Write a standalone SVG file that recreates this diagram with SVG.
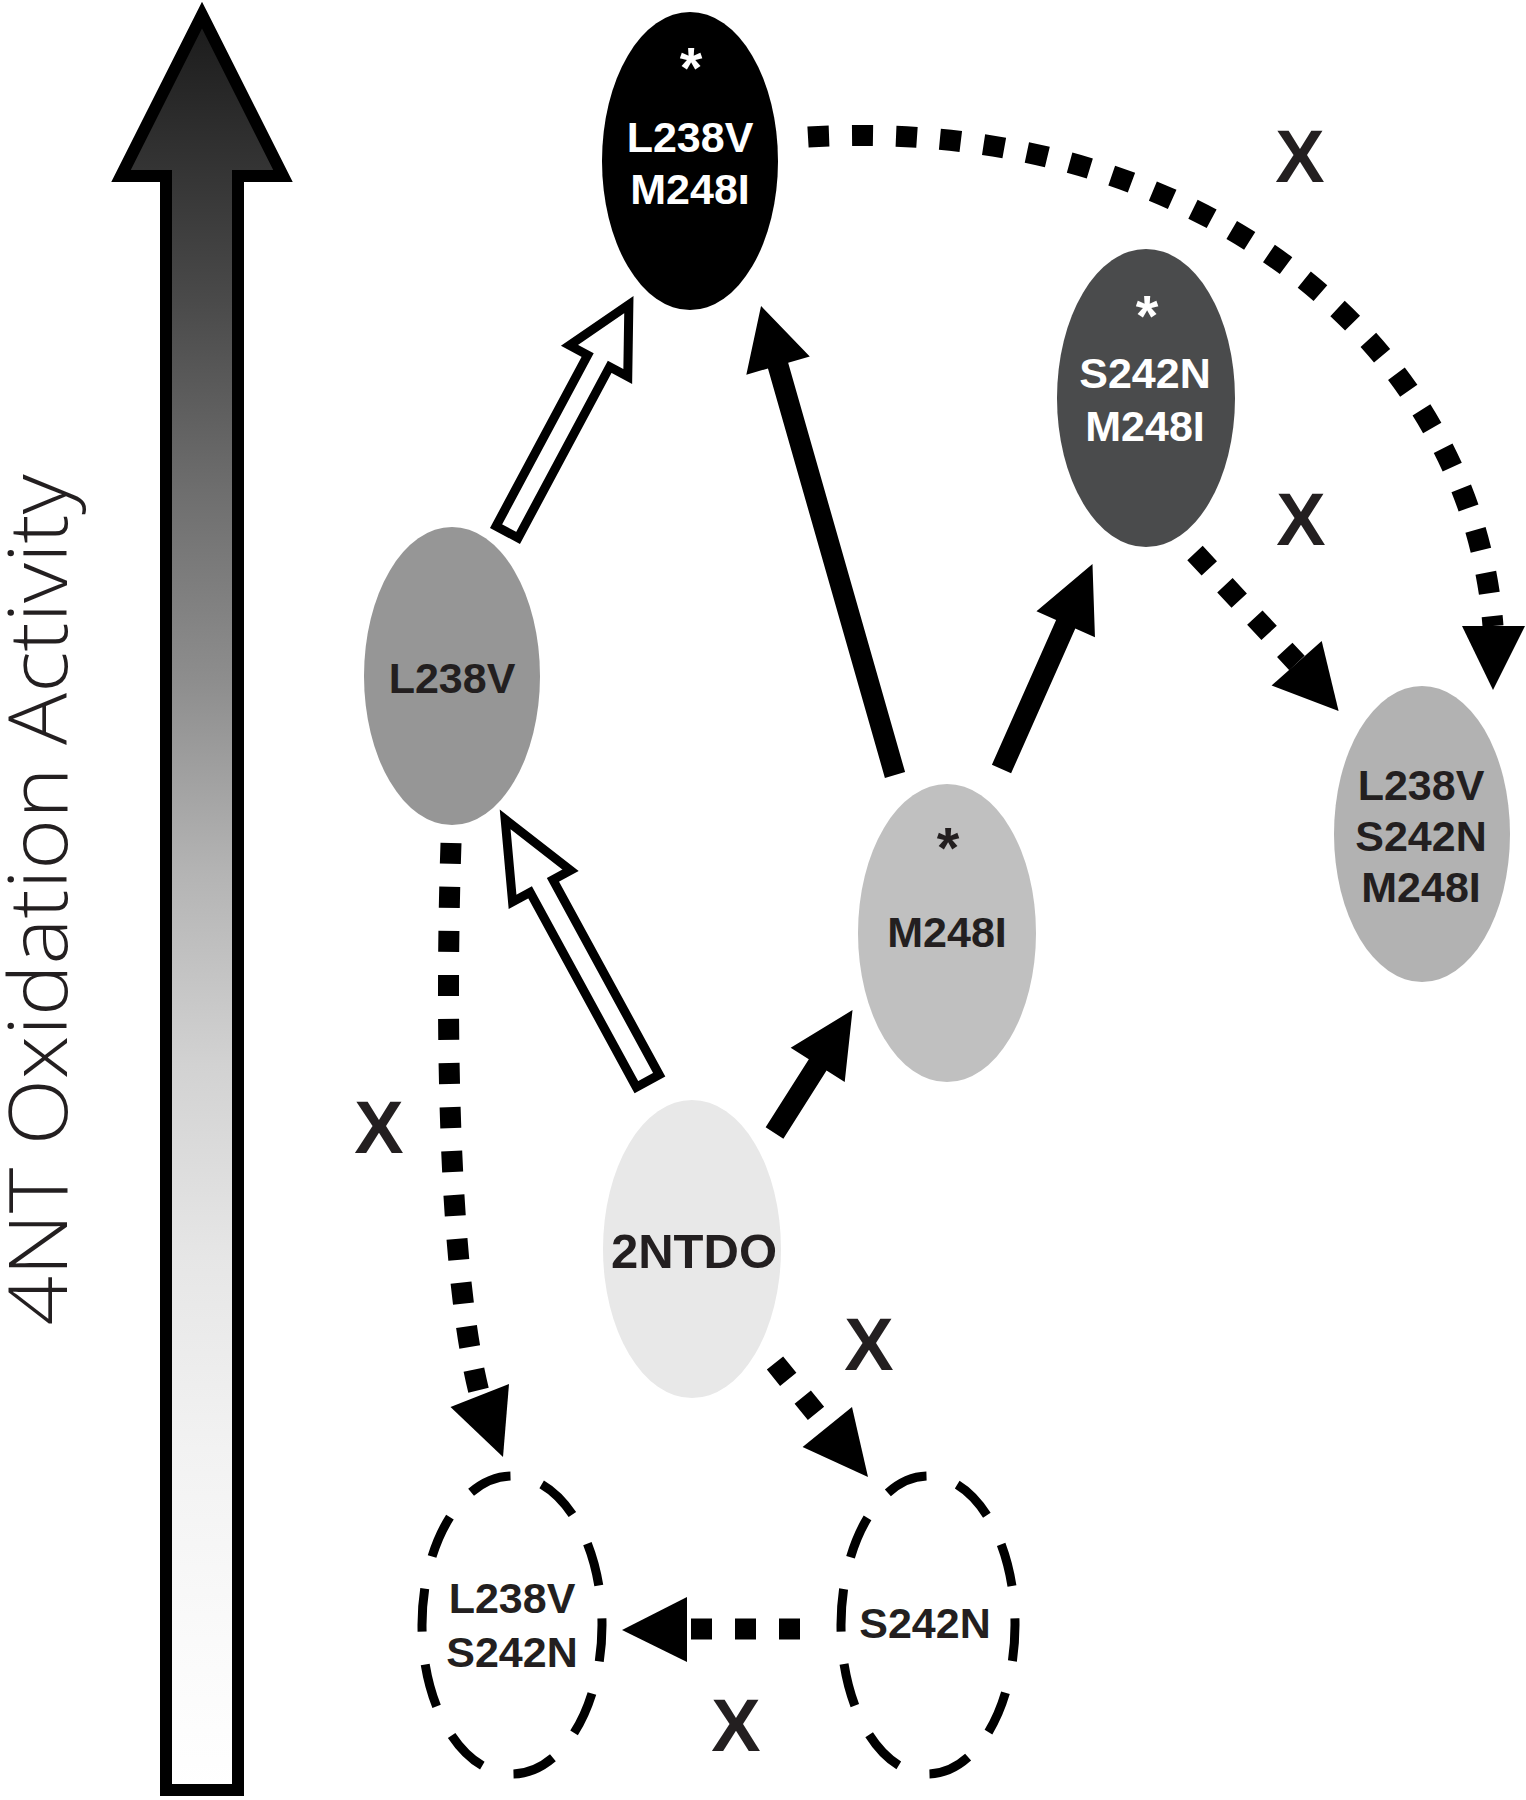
<svg xmlns="http://www.w3.org/2000/svg" width="1526" height="1800" viewBox="0 0 1526 1800">
<defs>
<linearGradient id="actGrad" gradientUnits="userSpaceOnUse" x1="0" y1="0" x2="0" y2="1790">
<stop offset="0" stop-color="#181818"/>
<stop offset="0.168" stop-color="#4a4a4a"/>
<stop offset="0.274" stop-color="#6e6e6e"/>
<stop offset="0.382" stop-color="#8e8e8e"/>
<stop offset="0.488" stop-color="#b4b4b4"/>
<stop offset="0.595" stop-color="#d2d2d2"/>
<stop offset="0.702" stop-color="#e6e6e6"/>
<stop offset="0.809" stop-color="#f2f2f2"/>
<stop offset="0.916" stop-color="#fafafa"/>
<stop offset="1" stop-color="#ffffff"/>
</linearGradient>
<style>
.lbl{font-family:"Liberation Sans",Arial,sans-serif;font-weight:bold;font-size:43px;text-anchor:middle;fill:#231f20}
.wht{fill:#ffffff}
.ast{font-size:58px}
.xl{font-family:"Liberation Sans",Arial,sans-serif;font-weight:bold;font-size:74px;text-anchor:middle;fill:#231f20}
.dashnode{fill:none;stroke:#000;stroke-width:9;stroke-dasharray:57 43;stroke-dashoffset:9}
.dot{fill:none;stroke:#000;stroke-width:21;stroke-dasharray:21 23}
.solid{fill:#000;stroke:none}
.hollow{fill:#fff;stroke:#000;stroke-width:9;stroke-linejoin:miter;stroke-miterlimit:10}
.head{fill:#000}
</style>
</defs>
<rect x="0" y="0" width="1526" height="1800" fill="#ffffff"/>

<g id="axis">
<path d="M202,15 L283,176 L238,176 L238,1790 L166,1790 L166,176 L121,176 Z" fill="url(#actGrad)" stroke="#000" stroke-width="12" stroke-linejoin="miter"/>
<text transform="translate(67,900) rotate(-90)" font-family="'Open Sans','Liberation Sans',sans-serif" font-weight="300" font-size="82" text-anchor="middle" fill="#231f20" textLength="851" lengthAdjust="spacingAndGlyphs">4NT Oxidation Activity</text>
</g>

<g id="node-L238V-M248I">
<ellipse cx="690" cy="161" rx="88" ry="149" fill="#000"/>
<text class="lbl wht ast" x="691" y="88">*</text>
<text class="lbl wht" x="690" y="152">L238V</text>
<text class="lbl wht" x="690" y="204">M248I</text>
</g>

<g id="node-S242N-M248I">
<ellipse cx="1146" cy="398" rx="89" ry="149" fill="#4a4b4c"/>
<text class="lbl wht ast" x="1147" y="336">*</text>
<text class="lbl wht" x="1145" y="388">S242N</text>
<text class="lbl wht" x="1145" y="441">M248I</text>
</g>

<g id="node-L238V">
<ellipse cx="452" cy="676" rx="88" ry="149" fill="#969696"/>
<text class="lbl" x="452" y="693">L238V</text>
</g>

<g id="node-M248I">
<ellipse cx="947" cy="933" rx="89" ry="149" fill="#c0c0c0"/>
<text class="lbl ast" x="948" y="868">*</text>
<text class="lbl" x="947" y="947">M248I</text>
</g>

<g id="node-L238V-S242N-M248I">
<ellipse cx="1422" cy="834" rx="88" ry="148" fill="#b2b2b2"/>
<text class="lbl" x="1421" y="800">L238V</text>
<text class="lbl" x="1421" y="851">S242N</text>
<text class="lbl" x="1421" y="902">M248I</text>
</g>

<g id="node-2NTDO">
<ellipse cx="692" cy="1249" rx="89" ry="149" fill="#e8e8e8"/>
<text class="lbl" x="694" y="1268" style="font-size:49px">2NTDO</text>
</g>

<g id="node-L238V-S242N">
<ellipse class="dashnode" cx="512" cy="1625" rx="90" ry="149" pathLength="1000"/>
<text class="lbl" x="512" y="1613">L238V</text>
<text class="lbl" x="512" y="1667">S242N</text>
</g>

<g id="node-S242N">
<ellipse class="dashnode" cx="928" cy="1625" rx="87" ry="149" pathLength="1000"/>
<text class="lbl" x="925" y="1638">S242N</text>
</g>

<g id="connectors">
<path class="hollow" transform="translate(507.1,532) rotate(-61.84)" d="M0,-12.5 L194,-12.5 L194,-33 L258,0 L194,33 L194,12.5 L0,12.5 Z"/>
<path class="hollow" transform="translate(647.8,1081) rotate(-118.6)" d="M0,-13 L222,-13 L222,-33 L298,0 L222,33 L222,13 L0,13 Z"/>
<path class="solid" transform="translate(895,775) rotate(-105.94)" d="M0,-10.5 L425.8,-10.5 L425.8,-33 L487.8,0 L425.8,33 L425.8,10.5 L0,10.5 Z"/>
<path class="solid" transform="translate(1001.5,769) rotate(-66.07)" d="M0,-10.5 L158.3,-10.5 L158.3,-32 L224.3,0 L158.3,32 L158.3,10.5 L0,10.5 Z"/>
<path class="solid" transform="translate(774.5,1133) rotate(-57.6)" d="M0,-10.5 L80.6,-10.5 L80.6,-32 L145.6,0 L80.6,32 L80.6,10.5 L0,10.5 Z"/>
<path class="dot" d="M808,137 C1180,115 1470,330 1493,626"/>
<polygon class="head" points="1462,626 1525,626 1493,690"/>
<path class="dot" d="M1195,553 L1297,663"/>
<polygon class="head" points="1271.6,685.6 1321.7,641 1338.6,711"/>
<path class="dot" d="M451,843 C445,1020 448,1275 480,1396"/>
<polygon class="head" points="450.5,1407 509,1384 503,1457"/>
<path class="dot" d="M775,1363 L827,1427"/>
<polygon class="head" points="802.6,1447 852,1407 868,1477"/>
<path class="dot" d="M800,1629 L687,1629"/>
<polygon class="head" points="687,1597 687,1662 622,1630"/>
</g>

<g id="labels">
<text class="xl" x="1300" y="182">X</text>
<text class="xl" x="1301" y="545">X</text>
<text class="xl" x="379" y="1153">X</text>
<text class="xl" x="869" y="1370">X</text>
<text class="xl" x="736" y="1751">X</text>
</g>
</svg>
